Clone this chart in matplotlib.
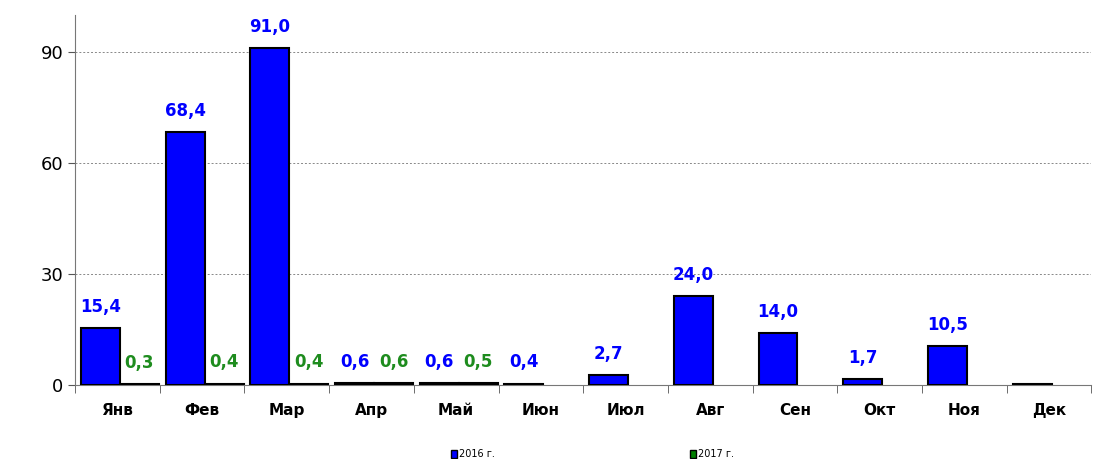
import matplotlib
matplotlib.use("Agg")
import matplotlib.pyplot as plt
from matplotlib.patches import Patch
import numpy as np

months = ["Янв", "Фев", "Мар", "Апр", "Май", "Июн", "Июл", "Авг", "Сен", "Окт", "Ноя", "Дек"]
vals_2016 = [15.4, 68.4, 91.0, 0.6, 0.6, 0.4, 2.7, 24.0, 14.0, 1.7, 10.5, 0.3]
vals_2017 = [0.3, 0.4, 0.4, 0.6, 0.5]
labels_2016 = ["15,4", "68,4", "91,0", "0,6", "0,6", "0,4", "2,7", "24,0", "14,0", "1,7", "10,5", ""]
labels_2017 = ["0,3", "0,4", "0,4", "0,6", "0,5"]

blue = "#0000ff"
green = "#008000"
label_green = "#1e8c1e"

fig = plt.figure(figsize=(10.94, 4.59), dpi=100)
ax = fig.add_axes([0.0686, 0.161, 0.929, 0.806])

x = np.arange(len(months))
w = 0.46
off = 0.03  # bars sit a little right of the slot centre
ax.bar(x - w / 2 + off, vals_2016, w, color=blue, edgecolor="black", linewidth=1.5, zorder=3)
x2 = x[:len(vals_2017)]
ax.bar(x2 + w / 2 + off, vals_2017, w, color=green, edgecolor="black", linewidth=1.5, zorder=3)

for xi, v, t in zip(x, vals_2016, labels_2016):
    if t:
        ax.text(xi - w / 2 + off, v + 3.3, t, ha="center", va="bottom", color=blue,
                fontsize=12, fontweight="bold")
for xi, v, t in zip(x2, vals_2017, labels_2017):
    ax.text(xi + w / 2 + off, v + 3.3, t, ha="center", va="bottom", color=label_green,
            fontsize=12, fontweight="bold")

ax.set_xlim(-0.5, 11.5)
ax.set_ylim(0, 100)
ax.set_yticks([0, 30, 60, 90])
ax.tick_params(axis="y", labelsize=13, length=5, color="#555555", direction="out")
ax.yaxis.grid(True, linestyle=(0, (2, 2)), color="#888888", linewidth=0.7, zorder=0)

# category labels centred, ticks between categories
ax.set_xticks(x)
ax.set_xticklabels(months, fontsize=11, fontweight="bold")
ax.tick_params(axis="x", length=0, pad=13)
ax.set_xticks(np.arange(-0.5, 12, 1), minor=True)
ax.tick_params(axis="x", which="minor", length=6, color="#555555", direction="out")

for s in ["top", "right"]:
    ax.spines[s].set_visible(False)
ax.spines["left"].set_color("#777777")
ax.spines["bottom"].set_color("#777777")

handles = [Patch(facecolor=blue, edgecolor="black"), Patch(facecolor=green, edgecolor="black")]
fig.legend(handles, ["2016 г.", "2017 г."], loc="lower center", bbox_to_anchor=(0.5415, -0.02),
           ncol=2, frameon=False, fontsize=7, handlelength=0.6, handleheight=0.9,
           handletextpad=0.2, columnspacing=20.1)

fig.savefig("out.png", dpi=100)
